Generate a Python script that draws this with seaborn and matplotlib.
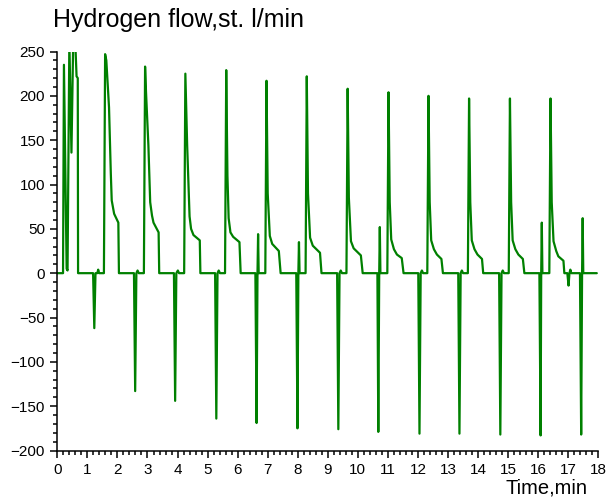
import matplotlib
matplotlib.use("Agg")
import matplotlib.pyplot as plt
from matplotlib.ticker import MultipleLocator
import pandas as pd
import seaborn as sns

# Hydrogen flow record (st. l/min) against time (min), one purge cycle per block
time_min = [
    0.00, 0.19, 0.22, 0.31, 0.34, 0.40, 0.47, 0.53, 0.60, 0.64, 0.68, 0.69,
    1.19, 1.23, 1.27, 1.33, 1.36, 1.39, 1.55,
    1.59, 1.63, 1.72, 1.78, 1.81, 1.89, 2.03, 2.05,
    2.55, 2.59, 2.63, 2.67, 2.71, 2.88,
    2.92, 2.95, 3.03, 3.09, 3.15, 3.20, 3.37, 3.39,
    3.88, 3.92, 3.96, 4.01, 4.05, 4.22,
    4.26, 4.32, 4.40, 4.45, 4.53, 4.74, 4.76,
    5.25, 5.29, 5.33, 5.37, 5.41, 5.58,
    5.62, 5.66, 5.70, 5.76, 5.85, 6.06, 6.10,
    6.59, 6.63, 6.66, 6.68, 6.70, 6.92,
    6.96, 7.00, 7.07, 7.15, 7.37, 7.43,
    7.95, 7.99, 8.02, 8.04, 8.06, 8.26,
    8.30, 8.34, 8.41, 8.50, 8.74, 8.79,
    9.31, 9.35, 9.39, 9.43, 9.47, 9.62,
    9.66, 9.70, 9.77, 9.86, 10.10, 10.16,
    10.65, 10.68, 10.71, 10.73, 10.75, 10.98,
    11.02, 11.06, 11.11, 11.20, 11.30, 11.46, 11.52,
    12.01, 12.05, 12.09, 12.13, 12.17, 12.31,
    12.35, 12.39, 12.44, 12.53, 12.63, 12.78, 12.83,
    13.34, 13.38, 13.42, 13.46, 13.50, 13.66,
    13.70, 13.74, 13.79, 13.88, 13.98, 14.13, 14.17,
    14.70, 14.74, 14.78, 14.82, 14.86, 15.02,
    15.06, 15.10, 15.15, 15.24, 15.34, 15.49, 15.54,
    16.04, 16.08, 16.10, 16.12, 16.14, 16.37,
    16.41, 16.45, 16.51, 16.60, 16.67, 16.84, 16.87,
    16.97, 17.01, 17.04, 17.07, 17.10,
    17.39, 17.43, 17.46, 17.48, 17.50, 17.95,
]
flow = [
    0, 0, 235, 5, 3, 262, 136, 265, 258, 222, 220, 0,
    0, -62, 0, 0, 4, 0, 0,
    247, 240, 187, 112, 82, 67, 57, 0,
    0, -133, 0, 3, 0, 0,
    233, 205, 144, 80, 65, 57, 46, 0,
    0, -144, 0, 3, 0, 0,
    225, 144, 64, 50, 43, 37, 0,
    0, -164, 0, 3, 0, 0,
    229, 110, 62, 46, 41, 35, 0,
    0, -169, 0, 44, 0, 0,
    217, 90, 42, 33, 25, 0,
    0, -175, 0, 35, 0, 0,
    222, 90, 40, 31, 23, 0,
    0, -176, 0, 3, 0, 0,
    208, 85, 36, 28, 20, 0,
    0, -179, 0, 52, 0, 0,
    204, 80, 38, 27, 21, 17, 0,
    0, -181, 0, 3, 0, 0,
    200, 80, 37, 27, 21, 16, 0,
    0, -181, 0, 3, 0, 0,
    197, 80, 37, 27, 21, 16, 0,
    0, -182, 0, 3, 0, 0,
    197, 80, 37, 27, 21, 16, 0,
    0, -183, 0, 57, 0, 0,
    197, 80, 36, 25, 19, 14, 0,
    0, -14, 0, 4, 0,
    0, -182, 0, 62, 0, 0,
]

x_ticks = list(range(0, 19))
y_ticks = list(range(-200, 251, 50))

df = pd.DataFrame({"Time": time_min, "Flow": flow})

sns.set_style("ticks")
plt.rcParams["font.family"] = ["Liberation Sans", "DejaVu Sans"]
plt.rcParams["text.color"] = "black"
plt.rcParams["xtick.color"] = "black"
plt.rcParams["ytick.color"] = "black"
plt.rcParams["xtick.labelcolor"] = "black"
plt.rcParams["ytick.labelcolor"] = "black"

fig = plt.figure(figsize=(6.06, 5.0), dpi=100)
ax = fig.add_axes([0.0946, 0.099, 0.8927, 0.798])

sns.lineplot(data=df, x="Time", y="Flow", estimator=None, sort=False,
             color="#008000", linewidth=1.6, ax=ax)

ax.set_xlim(x_ticks[0], x_ticks[-1])
ax.set_ylim(y_ticks[0], y_ticks[-1])
ax.set_xticks(x_ticks)
ax.set_yticks(y_ticks)
ax.xaxis.set_minor_locator(MultipleLocator(0.2))
ax.yaxis.set_minor_locator(MultipleLocator(10))
ax.tick_params(which="major", length=4.8, width=1.1, direction="out",
               labelsize=11, color="black", labelcolor="black", pad=4)
ax.tick_params(which="minor", length=2.9, width=1.1, direction="out",
               color="black")
ax.set_xlabel("")
ax.set_ylabel("")
sns.despine(ax=ax)
for side in ("left", "bottom"):
    ax.spines[side].set_linewidth(1.1)
    ax.spines[side].set_color("black")

fig.text(53 / 606, 1 - 26.5 / 500, "Hydrogen flow,st. l/min", fontsize=18,
         color="black", ha="left", va="baseline")
fig.text(588 / 606, 1 - 493 / 500, "Time,min", fontsize=14.5,
         color="black", ha="right", va="baseline")

fig.savefig("out.png", dpi=100)
